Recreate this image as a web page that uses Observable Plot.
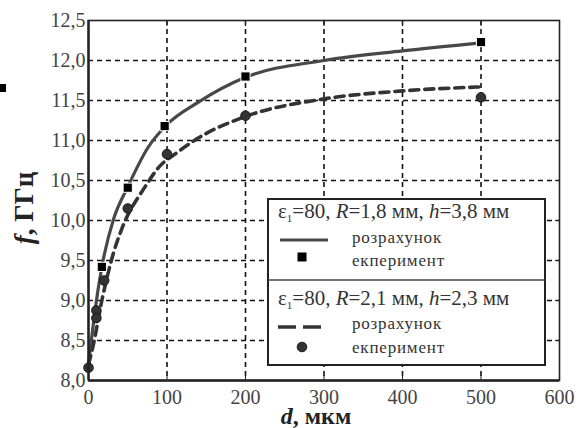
<!DOCTYPE html>
<html><head><meta charset="utf-8">
<script src="https://cdn.jsdelivr.net/npm/d3@7"></script>
<script src="https://cdn.jsdelivr.net/npm/@observablehq/plot@0.6"></script>
<style>
html,body{margin:0;padding:0;background:#fff;}
#wrap{position:relative;width:586px;height:428px;overflow:hidden;}
#stray{position:absolute;left:0;top:84px;width:6px;height:8px;background:#000;}
</style>
</head><body>
<div id="wrap"><div id="stray"></div></div>
<script>
// Solid curve: розрахунок, R=1,8 мм, h=3,8 мм
const calc1D = [0, 3, 8, 17, 32, 50, 75, 100, 140, 200, 300, 400, 500];
const calc1F = [8.2, 8.45, 8.85, 9.42, 10.02, 10.42, 10.9, 11.2, 11.48, 11.79, 12.0, 12.12, 12.22];
// Dashed curve: розрахунок, R=2,1 мм, h=2,3 мм
const calc2D = [0, 6, 17, 32, 43, 72, 90, 113, 138, 200, 300, 400, 500];
const calc2F = [8.2, 8.44, 9.0, 9.6, 9.91, 10.42, 10.67, 10.85, 11.02, 11.3, 11.52, 11.62, 11.67];
// Squares: експеримент 1
const exp1D = [17, 50, 97, 200, 500];
const exp1F = [9.42, 10.41, 11.18, 11.8, 12.23];
// Circles: експеримент 2
const exp2D = [0, 10, 10, 20, 50, 100, 200, 500];
const exp2F = [8.16, 8.875, 8.78, 9.25, 10.15, 10.83, 11.31, 11.54];
// Ticks
const xTicks = [0, 100, 200, 300, 400, 500, 600];
const yTicks = [8.0, 8.5, 9.0, 9.5, 10.0, 10.5, 11.0, 11.5, 12.0, 12.5];
const xGrid = [100, 200, 300, 400, 500];
const yGrid = [8.5, 9.0, 9.5, 10.0, 10.5, 11.0, 11.5, 12.0];

const zip = (a, b) => a.map((d, i) => ({d, f: b[i]}));
const calc1 = zip(calc1D, calc1F), calc2 = zip(calc2D, calc2F);
const exp1 = zip(exp1D, exp1F), exp2 = zip(exp2D, exp2F);
const fmtY = v => v.toFixed(1).replace(".", ",");
const serif = "Liberation Serif";

const plot = Plot.plot({
  width: 586, height: 428,
  marginLeft: 88, marginRight: 27, marginTop: 20, marginBottom: 48,
  x: {domain: [0, 600]},
  y: {domain: [8, 12.5]},
  style: {fontFamily: serif, fontSize: "20px", background: "white"},
  marks: [
    Plot.gridX({ticks: xGrid, stroke: "#111", strokeOpacity: 1, strokeWidth: 1.6, strokeDasharray: "5,4"}),
    Plot.gridY({ticks: yGrid, stroke: "#111", strokeOpacity: 1, strokeWidth: 1.6, strokeDasharray: "5,4"}),
    Plot.axisX({ticks: xTicks, tickSize: 0, tickPadding: 9, tickFormat: d => d, label: null, fill: "#444"}),
    Plot.axisX({ticks: xTicks, tickSize: -5, tickFormat: () => "", label: null, stroke: "#222"}),
    Plot.axisX({anchor: "top", ticks: xTicks, tickSize: -5, tickFormat: () => "", label: null, stroke: "#222"}),
    Plot.axisY({ticks: yTicks, tickSize: 0, tickPadding: 3, tickFormat: fmtY, label: null, fill: "#444"}),
    Plot.axisY({ticks: yTicks, tickSize: -5, tickFormat: () => "", label: null, stroke: "#222"}),
    Plot.axisY({anchor: "right", ticks: yTicks, tickSize: -5, tickFormat: () => "", label: null, stroke: "#222"}),
    Plot.line(calc1, {x: "d", y: "f", curve: "monotone-x", stroke: "#484848", strokeWidth: 3.2}),
    Plot.line(calc2, {x: "d", y: "f", curve: "monotone-x", stroke: "#333", strokeWidth: 3.6, strokeDasharray: "9,6"}),
    Plot.dot(exp2, {x: "d", y: "f", symbol: "circle", r: 4.8, fill: "#333", stroke: "#1a1a1a", strokeWidth: 1}),
    Plot.dot(exp1, {x: "d", y: "f", symbol: "square", r: 5.2, fill: "#000", stroke: "#fff", strokeWidth: 1}),
    Plot.frame({stroke: "#222", strokeWidth: 1.6}),
    Plot.ruleX([0], {stroke: "#222", strokeWidth: 2.4}),
    Plot.ruleY([8], {stroke: "#222", strokeWidth: 2.4})
  ]
});
document.getElementById("wrap").appendChild(plot);

const svg = d3.select(plot);
svg.attr("font-family", serif).attr("font-size", 20);

// axis labels
const xl = svg.append("text").attr("x", 316).attr("y", 424).attr("text-anchor", "middle")
  .attr("font-size", 24).attr("font-weight", "bold").attr("fill", "#222");
xl.append("tspan").attr("font-style", "italic").text("d");
xl.append("tspan").text(", мкм");
const yl = svg.append("text").attr("transform", "translate(33,208) rotate(-90)").attr("text-anchor", "middle")
  .attr("font-size", 27).attr("font-weight", "bold").attr("fill", "#222");
yl.append("tspan").attr("font-style", "italic").text("f");
yl.append("tspan").text(", ГГц");

// legend
const lg = svg.append("g").attr("fill", "#333").attr("text-anchor", "start");
lg.append("rect").attr("x", 268).attr("y", 199).attr("width", 277).attr("height", 166)
  .attr("fill", "#fff").attr("stroke", "#222").attr("stroke-width", 2);
lg.append("line").attr("x1", 268).attr("x2", 545).attr("y1", 280).attr("y2", 280)
  .attr("stroke", "#444").attr("stroke-width", 1.5);
function title(y, R, h) {
  const t = lg.append("text").attr("x", 278).attr("y", y).attr("font-size", 21);
  t.append("tspan").text("ε");
  t.append("tspan").attr("font-size", 11).attr("dy", 4).text("1");
  t.append("tspan").attr("dy", -4).text("=80, ");
  t.append("tspan").attr("font-style", "italic").text("R");
  t.append("tspan").text("=" + R + " мм, ");
  t.append("tspan").attr("font-style", "italic").text("h");
  t.append("tspan").text("=" + h + " мм");
}
function label(y, s) {
  lg.append("text").attr("x", 352).attr("y", y).attr("font-size", 17).attr("letter-spacing", 0.8).text(s);
}
title(218, "1,8", "3,8");
lg.append("line").attr("x1", 280).attr("x2", 328).attr("y1", 240).attr("y2", 240).attr("stroke", "#484848").attr("stroke-width", 3.2);
label(243, "розрахунок");
lg.append("rect").attr("x", 297.5).attr("y", 252.5).attr("width", 9).attr("height", 9).attr("fill", "#000");
label(266, "екперимент");
title(305, "2,1", "2,3");
lg.append("line").attr("x1", 278).attr("x2", 322).attr("y1", 327).attr("y2", 327).attr("stroke", "#333").attr("stroke-width", 3.6).attr("stroke-dasharray", "18,7");
label(329, "розрахунок");
lg.append("circle").attr("cx", 302).attr("cy", 347).attr("r", 4.8).attr("fill", "#333").attr("stroke", "#1a1a1a");
label(353, "екперимент");

// force the serif face on every text
svg.selectAll("text, tspan").style("font-family", "'Liberation Serif', serif");
</script>
</body></html>
